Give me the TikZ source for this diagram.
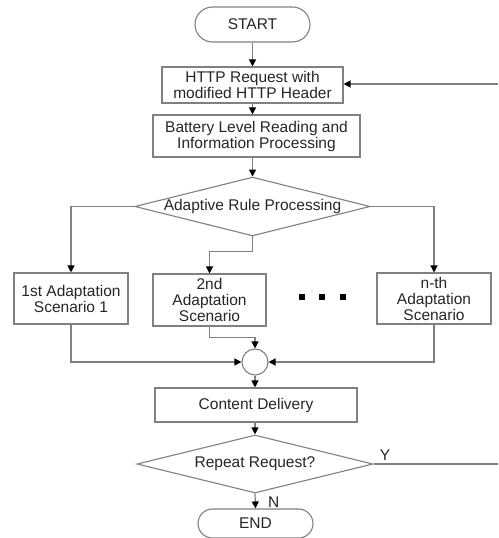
\documentclass[tikz,border=0pt]{standalone}
\usepackage{fontspec}
\setmainfont{Liberation Sans}
\usetikzlibrary{arrows.meta,shapes.geometric,shapes.misc}
\begin{document}
\begin{tikzpicture}[x=1pt,y=-1pt,
  every node/.style={font=\fontsize{15.5}{16}\selectfont, text=black!85},
  line/.style={draw=black!50, line width=1.2pt},
  arr/.style={line, -{Triangle[width=7pt,length=7pt,fill=black,color=black]}},
  box/.style={draw=black!50, line width=1.1pt, rectangle, inner sep=0pt, align=center},
  term/.style={draw=black!50, line width=1.1pt, rounded rectangle, inner sep=0pt},
  dia/.style={draw=black!50, line width=1.1pt, diamond, aspect=4, inner sep=0pt},
  dot/.style={fill=black, inner sep=0pt, minimum size=6pt, rectangle}]
\useasboundingbox (0,0) rectangle (498,538);

\node[term, minimum width=115pt, minimum height=35pt] (start) at (252.5,24.5) {START};
\node[box, minimum width=181pt, minimum height=36pt] (http) at (252.5,85) {HTTP Request with\\modified HTTP Header};
\node[box, minimum width=207pt, minimum height=42pt] (batt) at (256.5,136) {Battery Level Reading and\\Information Processing};
\node[dia, minimum width=235pt, minimum height=57pt] (adapt) at (252.5,206.5) {Adaptive Rule Processing};
\node[box, minimum width=114pt, minimum height=51pt] (s1) at (71,298.5) {1st Adaptation\\Scenario 1};
\node[box, minimum width=113pt, minimum height=52pt] (s2) at (209.5,300) {2nd\\Adaptation\\Scenario};
\node[box, minimum width=114pt, minimum height=51pt] (sn) at (434,298.5) {n-th\\Adaptation\\Scenario};
\node[dot] (d1) at (302,297) {};
\node[dot] (d2) at (322,297) {};
\node[dot] (d3) at (343,297) {};
\node[draw=black!50, line width=1.1pt, circle, minimum size=26pt, inner sep=0pt] (join) at (255,362) {};
\node[box, minimum width=202pt, minimum height=34pt] (deliv) at (256,405) {Content Delivery};
\node[dia, minimum width=236pt, minimum height=58pt] (rep) at (255,464) {Repeat Request?};
\node[term, minimum width=115pt, minimum height=29pt] (end) at (255.5,523.5) {END};

\coordinate (inR) at (498,84);
\coordinate (outR) at (498,464);

\draw[arr] (start.south) -- (http.north);
\draw[arr] (inR) -- (http.east |- inR);
\draw[arr] (http.south) -- (http.south |- batt.north);
\draw[arr] (http.south |- batt.south) -- (adapt.north);
\draw[arr] (adapt.west) -| (s1.north);
\draw[arr] (adapt.east) -| (sn.north);
\draw[arr] (adapt.south) -- ++(0,15) -| (s2.north);
\draw[arr] (s2.south) -- ++(0,11) -| (join.north);
\draw[arr] (s1.south) |- (join.west);
\draw[arr] (sn.south) |- (join.east);
\draw[arr] (join.south) -- (join.south |- deliv.north);
\draw[arr] (join.south |- deliv.south) -- (rep.north);
\draw[arr] (rep.south) -- node[right=9pt, pos=0.55] (nlab) {N} (end.north);
\draw[line] (rep.east) -- node[above, pos=0.06, xshift=4pt] (ylab) {Y} (outR);
\end{tikzpicture}
\end{document}
